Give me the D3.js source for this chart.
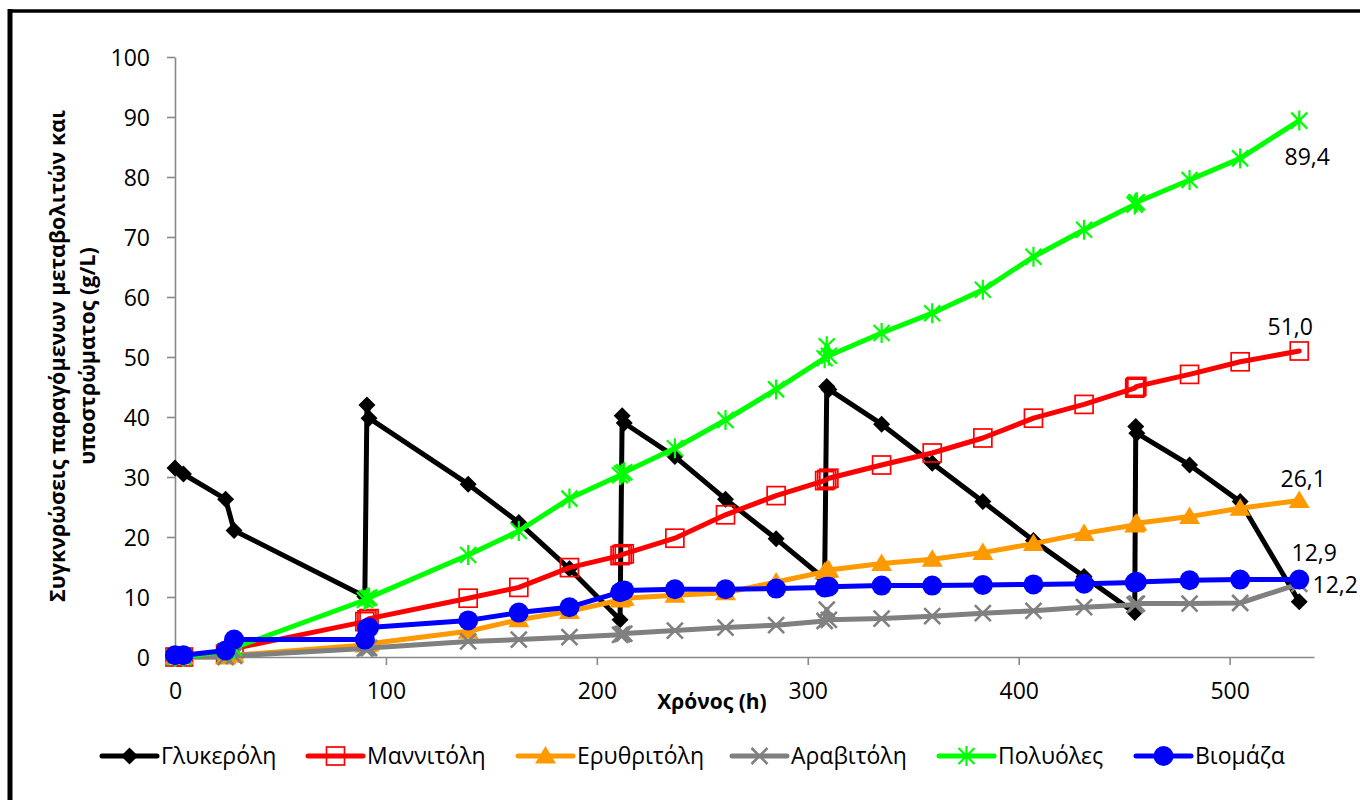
<!DOCTYPE html>
<html><head><meta charset="utf-8">
<script src="https://cdn.jsdelivr.net/npm/d3@7"></script>
<style>
body{margin:0;background:#fff}
svg{display:block}
text{font-family:"Open Sans","Noto Sans",sans-serif;fill:#000}
</style>
</head><body>
<svg id="c" width="1360" height="800"></svg>
<script>
// ---- data ----
const hours      = [0, 4, 24, 28, 90, 91, 92, 139, 163, 187, 211, 212, 213, 237, 261, 285, 308, 309, 310, 335, 359, 383, 407, 431, 455, 455.5, 456, 481, 505, 533];
const glycerol   = [31.5, 30.5, 26.3, 21.1, 10.1, 42.0, 39.8, 28.8, 22.4, 14.7, 6.2, 40.2, 39.0, 33.4, 26.3, 19.7, 13.0, 45.1, 44.6, 38.8, 32.3, 25.9, 19.4, 13.4, 7.4, 38.4, 37.3, 32.0, 25.9, 9.2];
const mannitol   = [0, 0, 0.5, 1.4, 5.9, 6.2, 6.4, 9.8, 11.6, 14.9, 16.9, 17.1, 17.2, 19.8, 23.7, 26.9, 29.4, 29.6, 29.8, 32.0, 34.0, 36.5, 39.8, 42.1, 44.8, 45.0, 45.1, 47.1, 49.2, 51.0];
const erythritol = [0, 0, 0, 0.3, 2.0, 2.1, 2.2, 4.3, 6.2, 7.6, 9.5, 9.7, 9.8, 10.3, 10.7, 12.5, 14.2, 14.4, 14.5, 15.6, 16.3, 17.4, 18.9, 20.6, 22.0, 22.2, 22.3, 23.4, 24.8, 26.1];
const arabitol   = [0, 0, 0, 0.2, 1.4, 1.5, 1.5, 2.6, 2.9, 3.3, 3.7, 3.8, 3.9, 4.4, 4.9, 5.3, 6.0, 7.9, 6.2, 6.4, 6.8, 7.3, 7.7, 8.3, 8.7, 8.8, 8.9, 8.9, 9.0, 12.2];
const polyols    = [0, 0, 1.0, 1.5, 9.5, 9.8, 9.9, 17.0, 21.0, 26.4, 30.3, 30.6, 30.8, 34.8, 39.5, 44.6, 49.8, 51.8, 50.2, 54.0, 57.3, 61.2, 66.7, 71.2, 75.4, 75.7, 75.8, 79.5, 83.1, 89.4];
const biomass    = [0.3, 0.3, 1.1, 2.9, 2.9, 4.8, 4.9, 6.1, 7.4, 8.3, 10.8, 11.0, 11.1, 11.3, 11.3, 11.4, 11.6, 11.7, 11.7, 11.9, 11.9, 12.0, 12.1, 12.2, 12.4, 12.5, 12.5, 12.8, 12.9, 12.9];
const seriesNames = ["Γλυκερόλη", "Μαννιτόλη", "Ερυθριτόλη", "Αραβιτόλη", "Πολυόλες", "Βιομάζα"];
const xTicks = [0, 100, 200, 300, 400, 500];
const yTicks = [0, 10, 20, 30, 40, 50, 60, 70, 80, 90, 100];
const xTitle = "Χρόνος (h)";
const yTitle = ["Συγκνρώσεις παραγόμενων μεταβολιτών και", "υποστρώματος (g/L)"];

// ---- styling ----
const seriesValues = [glycerol, mannitol, erythritol, arabitol, polyols, biomass];
const colors  = ["#000000", "#ff0000", "#ff9900", "#808080", "#00ff00", "#0000ff"];
const markers = ["diamond", "square", "triangle", "cross", "star", "circle"];

const svg = d3.select("#c");
const x = d3.scaleLinear().domain([0, 540]).range([175, 1314]);
const y = d3.scaleLinear().domain([0, 100]).range([657, 57]);

// outer frame (left + top visible)
svg.append("line").attr("x1",10).attr("x2",10).attr("y1",9).attr("y2",800).attr("stroke","#000").attr("stroke-width",5);
svg.append("line").attr("x1",8).attr("x2",1360).attr("y1",11).attr("y2",11).attr("stroke","#000").attr("stroke-width",3.5);

// axes
const axisColor = "#898989";
const yAxis = svg.append("g").attr("transform","translate(175,0)")
  .call(d3.axisLeft(y).tickValues(yTicks).tickSize(8).tickSizeOuter(0).tickPadding(17));
const xAxis = svg.append("g").attr("transform","translate(0,657)")
  .call(d3.axisBottom(x).tickValues(xTicks).tickSize(8).tickSizeOuter(0).tickPadding(22));
[yAxis, xAxis].forEach(a=>{
  a.select(".domain").attr("stroke",axisColor).attr("stroke-width",1.6);
  a.selectAll(".tick line").attr("stroke",axisColor).attr("stroke-width",1.6);
  a.selectAll(".tick text").attr("font-size",23).attr("font-family","'Open Sans','Noto Sans',sans-serif").attr("fill","#000");
});
xAxis.selectAll(".tick text").attr("dy","0.5em");
yAxis.selectAll(".tick text").attr("dy","0.36em");

// axis titles
svg.append("text").attr("x",712).attr("y",701).attr("dy","0.36em").attr("text-anchor","middle")
  .attr("font-size",21).attr("font-weight","bold").text(xTitle);
const yt = svg.append("text").attr("transform","translate(57,356) rotate(-90)").attr("text-anchor","middle")
  .attr("font-size",21.5).attr("font-weight","bold");
yt.append("tspan").attr("x",0).attr("dy","0.36em").text(yTitle[0]);
yt.append("tspan").attr("x",0).attr("dy","1.42em").text(yTitle[1]);

// markers
function drawMarker(g, type, color){
  if(type==="diamond") g.append("path").attr("d","M0,-8.5L8.5,0L0,8.5L-8.5,0Z").attr("fill",color);
  else if(type==="square") g.append("rect").attr("x",-9).attr("y",-9).attr("width",18).attr("height",18).attr("fill","none").attr("stroke",color).attr("stroke-width",1.7);
  else if(type==="triangle") g.append("path").attr("d","M0,-10L10.5,7.5L-10.5,7.5Z").attr("fill",color);
  else if(type==="cross") g.append("path").attr("d","M-8,-8L8,8M-8,8L8,-8").attr("stroke",color).attr("stroke-width",2.6).attr("fill","none");
  else if(type==="star") g.append("path").attr("d","M-8,-8L8,8M-8,8L8,-8M0,-10L0,10").attr("stroke",color).attr("stroke-width",2.2).attr("fill","none");
  else if(type==="circle") g.append("circle").attr("r",10).attr("fill",color);
}

const line = d3.line().x(d=>x(d[0])).y(d=>y(d[1]));
seriesValues.forEach((vals,i)=>{
  const pts = hours.map((h,j)=>[h, vals[j]]);
  const g = svg.append("g");
  g.append("path").datum(pts).attr("d",line).attr("fill","none").attr("stroke",colors[i])
    .attr("stroke-width",5).attr("stroke-linejoin","round").attr("stroke-linecap","round");
  pts.forEach(p=>{
    const m = g.append("g").attr("transform",`translate(${x(p[0])},${y(p[1])})`);
    drawMarker(m, markers[i], colors[i]);
  });
});

// end labels
const fmt = v => d3.format(".1f")(v).replace(".", ",");
const labelOffsets = {4:[8,36], 1:[-9,-24], 2:[4,-22], 5:[15,-27], 3:[36,1]};
Object.entries(labelOffsets).forEach(([i,off])=>{
  const vals = seriesValues[+i], n = hours.length-1;
  svg.append("text").attr("x",x(hours[n])+off[0]).attr("y",y(vals[n])+off[1]).attr("dy","0.36em")
    .attr("text-anchor","middle").attr("font-size",23).text(fmt(vals[n]));
});

// legend
const legendX = [102, 308, 518, 732, 939, 1136];
const lg = svg.append("g");
seriesNames.forEach((name,i)=>{
  const g = lg.append("g").attr("transform",`translate(${legendX[i]},756)`);
  g.append("line").attr("x1",0).attr("x2",55).attr("y1",0).attr("y2",0).attr("stroke",colors[i]).attr("stroke-width",5).attr("stroke-linecap","round");
  drawMarker(g.append("g").attr("transform","translate(27.5,0)"), markers[i], colors[i]);
  g.append("text").attr("x",59).attr("y",0).attr("dy","0.36em").attr("font-size",23).text(name);
});
</script>
</body></html>
